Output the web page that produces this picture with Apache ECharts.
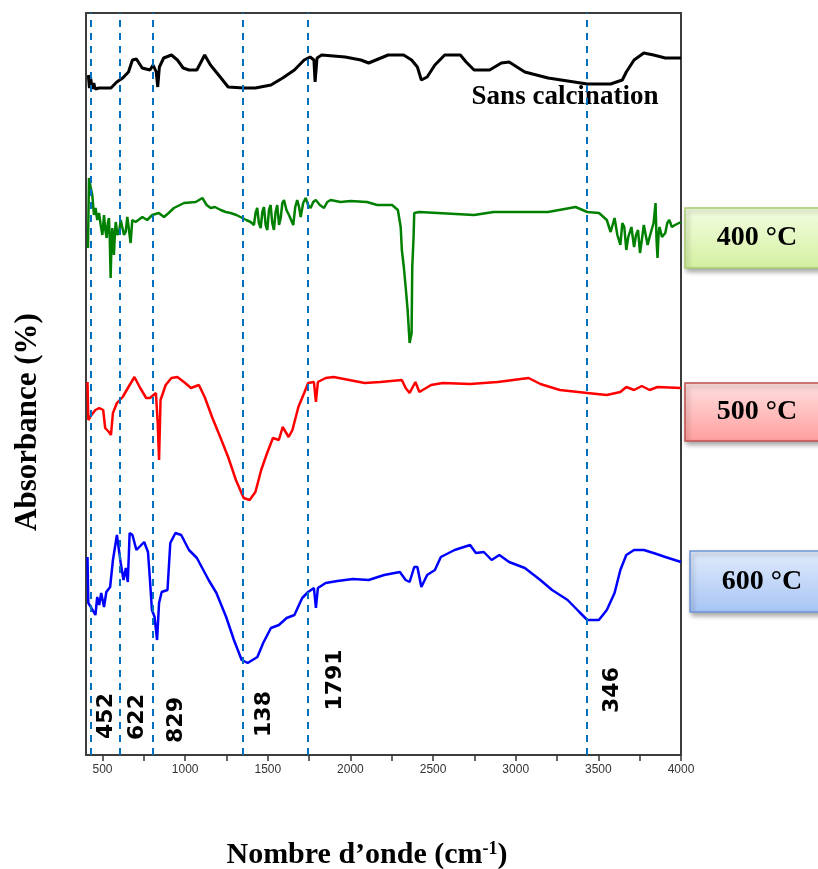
<!DOCTYPE html>
<html>
<head>
<meta charset="utf-8">
<script src="https://cdn.jsdelivr.net/npm/echarts@6/dist/echarts.min.js"></script>
<style>
html, body { margin: 0; padding: 0; background: #fff; }
#chart { width: 818px; height: 869px; }
</style>
</head>
<body>
<div id="chart"></div>
<script>
// axis ticks / labels (cm-1)
const xTicks = [500, 750, 1000, 1250, 1500, 1750, 2000, 2250, 2500, 2750, 3000, 3250, 3500, 3750, 4000];
const xLabels = [500, 1000, 1500, 2000, 2500, 3000, 3500, 4000];

// marked bands (where the dashed lines sit) and their printed text
const peakLines = [430, 605, 806, 1350, 1740, 3432];
const peakTexts = ['452', '622', '829', '138', '1791', '346'];

const seriesNames = ['Sans calcination', '400 °C', '500 °C', '600 °C'];

// [wavenumber, absorbance (a.u., stacked)]
const sansCalcination = [[414,68.0],[421,66.7],[428,67.7],[438,66.6],[447,67.2],[456,66.6],[480,66.7],[551,66.7],[586,67.3],[622,67.7],[657,68.3],[681,69.5],[705,69.6],[740,68.7],[787,68.5],[806,69.0],[825,68.3],[834,66.8],[844,68.8],[870,69.7],[917,70.0],[953,69.5],[988,68.7],[1023,68.5],[1071,68.5],[1118,70.0],[1153,69.0],[1212,67.8],[1260,66.8],[1354,66.7],[1425,66.7],[1519,67.0],[1590,67.7],[1661,68.5],[1720,69.5],[1756,69.8],[1779,69.5],[1786,67.3],[1798,69.7],[1826,70.0],[1968,69.8],[2063,69.5],[2110,69.2],[2228,70.0],[2322,70.0],[2370,69.5],[2405,68.8],[2429,67.5],[2464,67.8],[2511,69.0],[2570,70.0],[2665,70.0],[2700,69.3],[2748,68.5],[2842,68.5],[2913,69.2],[2960,69.3],[3055,68.3],[3196,67.7],[3433,67.1],[3574,67.1],[3645,67.5],[3669,68.3],[3716,69.5],[3775,70.2],[3834,70.0],[3905,69.7],[4000,69.7]];

const calc400 = [[412,50.7],[418,57.7],[428,56.8],[438,56.0],[448,54.0],[458,54.7],[468,53.5],[479,54.2],[489,53.0],[499,52.0],[509,54.0],[517,52.5],[525,51.7],[532,53.2],[539,53.7],[544,51.5],[549,47.7],[554,51.0],[559,52.7],[564,51.5],[569,50.0],[575,52.2],[580,53.3],[590,52.0],[600,52.3],[610,53.5],[620,53.3],[630,52.0],[640,52.3],[650,53.8],[660,52.5],[670,51.2],[680,53.5],[700,53.3],[741,53.8],[770,53.5],[801,54.0],[840,54.2],[872,53.8],[900,54.2],[932,54.7],[993,55.2],[1064,55.3],[1104,55.7],[1130,55.0],[1154,54.7],[1180,54.8],[1215,54.5],[1245,54.3],[1275,54.2],[1310,54.0],[1346,53.7],[1370,53.5],[1396,53.3],[1416,53.0],[1426,54.2],[1436,54.7],[1446,53.2],[1457,52.7],[1467,54.3],[1477,54.8],[1487,53.0],[1497,52.5],[1507,54.5],[1517,55.0],[1527,53.2],[1537,52.5],[1547,54.3],[1557,55.0],[1568,53.0],[1578,53.7],[1588,55.2],[1598,55.5],[1613,54.5],[1628,54.0],[1641,53.5],[1654,53.0],[1666,54.8],[1678,55.5],[1689,54.8],[1699,53.8],[1714,55.2],[1729,55.7],[1744,55.0],[1759,54.7],[1775,55.3],[1790,55.5],[1815,55.0],[1840,54.7],[1860,55.3],[1880,55.5],[1940,55.3],[2001,55.4],[2100,55.3],[2162,55.0],[2252,55.0],[2287,54.5],[2304,52.8],[2311,50.5],[2323,48.8],[2334,46.8],[2346,44.5],[2358,41.2],[2370,42.2],[2374,48.8],[2382,51.8],[2386,54.2],[2417,54.3],[2748,54.0],[2866,54.3],[3196,54.3],[3362,54.8],[3433,54.3],[3504,54.2],[3551,53.5],[3574,52.3],[3598,53.7],[3615,52.0],[3633,51.0],[3645,53.2],[3657,52.8],[3669,50.5],[3681,51.8],[3700,52.8],[3716,50.8],[3728,52.0],[3740,52.5],[3752,50.2],[3763,51.5],[3775,53.0],[3787,52.8],[3798,51.0],[3810,51.8],[3822,52.5],[3834,53.2],[3846,55.2],[3852,51.5],[3858,49.7],[3864,52.0],[3870,52.8],[3885,51.8],[3905,52.2],[3917,53.2],[3929,53.5],[3945,52.8],[3964,53.0],[4000,53.3]];

const calc500 = [[409,37.3],[414,33.5],[433,34.0],[457,34.5],[480,34.7],[504,34.5],[516,32.7],[539,32.3],[551,32.0],[563,34.2],[587,35.2],[622,35.8],[657,36.8],[693,37.8],[728,36.7],[764,35.7],[787,35.7],[823,36.2],[834,33.2],[842,29.5],[851,35.5],[882,37.0],[917,37.7],[953,37.8],[1000,37.2],[1035,36.7],[1083,37.0],[1118,35.8],[1165,33.7],[1212,31.8],[1260,29.8],[1307,27.5],[1354,25.7],[1390,25.5],[1425,26.3],[1460,28.5],[1496,30.2],[1531,31.7],[1567,31.5],[1590,32.8],[1626,31.8],[1649,32.5],[1685,34.8],[1720,36.2],[1744,37.2],[1779,37.3],[1791,35.3],[1803,37.3],[1850,37.7],[1898,37.8],[1992,37.5],[2086,37.2],[2181,37.3],[2311,37.5],[2334,36.7],[2358,36.2],[2393,37.3],[2417,36.3],[2488,37.0],[2559,37.2],[2724,37.1],[2890,37.3],[3078,37.7],[3149,37.1],[3267,36.5],[3433,36.2],[3551,36.0],[3633,36.3],[3669,36.8],[3716,36.5],[3763,36.9],[3810,36.5],[3858,36.8],[4000,36.7]];

const calc600 = [[409,19.8],[414,15.2],[433,14.7],[457,14.0],[468,15.8],[480,15.0],[492,16.2],[509,14.8],[523,16.3],[546,16.8],[563,19.5],[587,22.0],[598,22.2],[610,19.2],[627,17.5],[641,18.7],[653,17.3],[664,22.2],[681,22.0],[705,20.5],[752,21.3],[775,20.3],[787,17.5],[799,14.5],[815,13.8],[830,11.5],[842,15.2],[858,16.3],[893,16.5],[910,21.2],[941,22.2],[976,22.0],[1023,20.5],[1071,19.7],[1142,17.5],[1189,16.2],[1248,13.8],[1295,11.5],[1342,9.5],[1378,9.2],[1437,9.8],[1472,11.2],[1519,12.7],[1567,13.0],[1614,13.7],[1661,14.0],[1708,15.7],[1744,16.3],[1779,16.7],[1791,14.7],[1803,16.7],[1850,17.2],[1921,17.4],[2015,17.6],[2110,17.5],[2204,18.0],[2299,18.3],[2334,17.5],[2358,17.3],[2386,18.8],[2405,18.8],[2429,16.8],[2464,18.0],[2511,18.5],[2547,19.8],[2630,20.5],[2724,21.0],[2759,20.2],[2807,20.3],[2854,19.5],[2901,20.0],[2960,19.3],[3055,18.7],[3149,17.5],[3220,16.5],[3314,15.5],[3385,14.3],[3433,13.5],[3503,13.5],[3551,14.5],[3598,16.2],[3633,18.5],[3669,20.0],[3716,20.5],[3775,20.5],[3834,20.2],[3905,19.8],[4000,19.3]];

const chart = echarts.init(document.getElementById('chart'));

function line(name, data, color, width) {
  return {
    name: name,
    type: 'line',
    data: data,
    symbol: 'none',
    lineStyle: { color: color, width: width },
    itemStyle: { color: color }
  };
}

function tag(x, y, w, h, text, top, bottom, border) {
  return {
    type: 'group',
    x: x, y: y,
    children: [
      {
        type: 'rect',
        shape: { x: 0, y: 0, width: w, height: h },
        style: {
          fill: new echarts.graphic.LinearGradient(0, 0, 0, 1, [
            { offset: 0, color: top }, { offset: 1, color: bottom }
          ]),
          stroke: border, lineWidth: 1.5,
          shadowBlur: 5, shadowOffsetX: 2, shadowOffsetY: 3, shadowColor: 'rgba(0,0,0,0.35)'
        }
      },
      {
        type: 'text',
        x: 72, y: h / 2,
        style: { text: text, font: 'bold 28px "Liberation Serif"', fill: '#000', align: 'center', verticalAlign: 'middle' }
      }
    ]
  };
}

const series = [
  line(seriesNames[0], sansCalcination, '#000000', 3),
  line(seriesNames[1], calc400, '#008000', 2.5),
  line(seriesNames[2], calc500, '#ff0000', 2.5),
  line(seriesNames[3], calc600, '#0000ff', 2.5)
];
series[3].markLine = {
  silent: true,
  symbol: 'none',
  label: { show: false },
  lineStyle: { color: '#0070c0', type: [7, 6], width: 2 },
  data: peakLines.map(v => ({ xAxis: v }))
};

chart.setOption({
  animation: false,
  grid: { left: 86, right: 137, top: 13, bottom: 114, show: true, borderColor: '#3c3c3c', borderWidth: 2 },
  xAxis: {
    type: 'value', min: 400, max: 4000,
    axisLine: { show: true, lineStyle: { color: '#3c3c3c', width: 2 } },
    axisTick: { show: true, inside: false, length: 6, customValues: xTicks, lineStyle: { color: '#333', width: 1.5 } },
    axisLabel: { customValues: xLabels, margin: 9, color: '#333', fontSize: 12, fontFamily: 'Liberation Sans', formatter: v => String(v) },
    splitLine: { show: false }
  },
  yAxis: {
    type: 'value', min: 0, max: 74.2,
    axisLine: { show: false }, axisTick: { show: false }, axisLabel: { show: false }, splitLine: { show: false }
  },
  series: series
});

const labelShift = [15, 17, 23, 21, 28, 25];
const labelMidY = [716, 717, 720, 714, 680, 690];
const peakLabels = peakTexts.map((t, i) => ({
  type: 'text',
  x: chart.convertToPixel({ xAxisIndex: 0 }, peakLines[i]) + labelShift[i],
  y: labelMidY[i],
  rotation: Math.PI / 2,
  style: { text: t, font: 'bold 22px "DejaVu Sans"', fill: '#000', align: 'center', verticalAlign: 'middle' }
}));

chart.setOption({
  graphic: peakLabels.concat([
    {
      type: 'text', x: 565, y: 97,
      style: {
        text: 'Sans calcination', font: 'bold 27px "Liberation Serif"', fill: '#000',
        align: 'center', verticalAlign: 'middle',
        shadowBlur: 4, shadowColor: 'rgba(0,0,0,0.4)', shadowOffsetX: 2, shadowOffsetY: 2
      }
    },
    tag(685, 208, 140, 60, '400 °C', '#f4fde2', '#d3f0a0', '#a9cc72'),
    tag(685, 383, 140, 58, '500 °C', '#ffe0e0', '#ff9e9e', '#c0504d'),
    tag(690, 551, 140, 61, '600 °C', '#e2ecfd', '#a6c4f4', '#6d95d8'),
    {
      type: 'text', x: 367, y: 855,
      style: {
        text: 'Nombre d\u2019onde (cm{sup|-1})', font: 'bold 30px "Liberation Serif"', fill: '#000',
        align: 'center', verticalAlign: 'middle',
        rich: { sup: { font: 'bold 18px "Liberation Serif"', fill: '#000', verticalAlign: 'top', padding: [0, 0, 12, 0] } }
      }
    },
    {
      type: 'text', x: 28, y: 422, rotation: Math.PI / 2,
      style: { text: 'Absorbance (%)', font: 'bold 31px "Liberation Serif"', fill: '#000', align: 'center', verticalAlign: 'middle' }
    }
  ])
});
</script>
</body>
</html>
